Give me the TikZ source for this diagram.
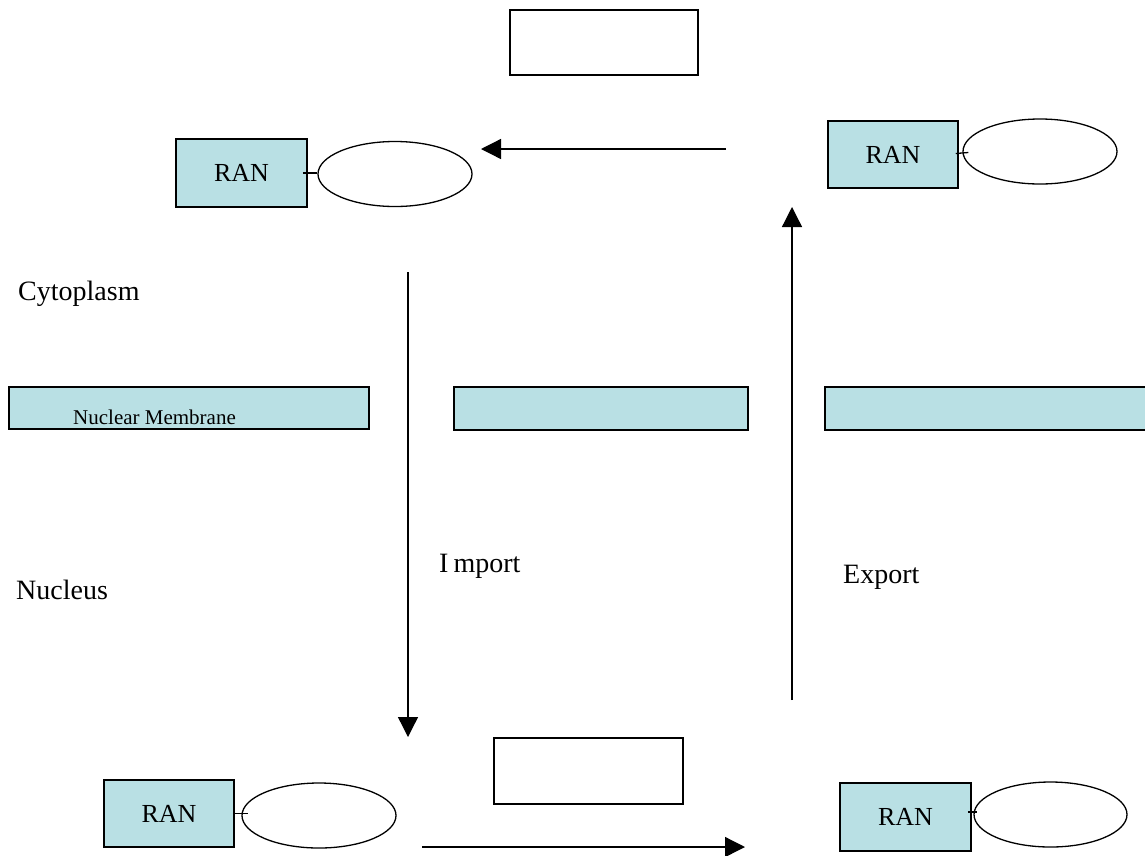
\documentclass[tikz,border=0pt]{standalone}
\usepackage{fontspec}
\setmainfont{Liberation Serif}
\usetikzlibrary{shapes.geometric}
\usetikzlibrary{arrows.meta}
\definecolor{ranblue}{RGB}{185,224,228}

\tikzset{
	ranbox/.style={draw, line width=1.5pt, fill=ranblue, minimum width=131pt, minimum height=68pt, inner sep=0pt, font=\fontsize{26}{28}\selectfont},
	oval/.style={draw, ellipse, line width=1.3pt, minimum width=154pt, minimum height=65pt, inner sep=0pt},
	emptybox/.style={draw, line width=1.5pt, minimum width=188pt, minimum height=65pt, inner sep=0pt},
	membrane/.style={draw, line width=1.5pt, fill=ranblue, minimum height=43pt, inner sep=0pt},
	label/.style={anchor=base west, inner sep=0pt, font=\fontsize{28}{30}\selectfont},
	tick/.style={line width=1.3pt},
	flow/.style={line width=1.3pt, -{Triangle[length=20pt, width=20pt]}}
}

\begin{document}
\begin{tikzpicture}[x=1pt, y=-1pt]
		\useasboundingbox (0,0) rectangle (1145,855);
		
		\node[emptybox] (top) at (604,42.5) {};
		\node[emptybox, minimum width=189pt, minimum height=66pt] (bottom) at (588.5,771) {};
		
		\node[ranbox] (ranA) at (241.5,173) {RAN};
		\node[oval] (ovalA) at (395,174) {};
		\draw[tick] ([xshift=-5pt]ranA.east) -- (ovalA.west |- ranA.east);
		
		\node[ranbox, minimum width=130pt, minimum height=67pt] (ranB) at (893,154.5) {RAN};
		\node[oval] (ovalB) at (1040,151.5) {};
		\draw[tick] ([xshift=-3pt, yshift=1pt]ranB.east) -- ([xshift=6pt, yshift=-1pt]ovalB.west);
		
		\node[ranbox, minimum width=130pt, minimum height=67pt] (ranC) at (169,813.5) {RAN};
		\node[oval] (ovalC) at (319,815.5) {};
		\draw[tick] ([xshift=-2pt]ranC.east) -- ([xshift=7pt]ovalC.west |- ranC.east);
		
		\node[ranbox] (ranD) at (905.5,817) {RAN};
		\node[oval, minimum width=153pt] (ovalD) at (1050.5,814.5) {};
		\draw[tick] ([xshift=-4pt, yshift=5pt]ranD.east) -- ([xshift=4pt, yshift=2.5pt]ovalD.west);
		
		\node[membrane, minimum width=360pt, minimum height=42pt] (memA) at (189,408) {};
		\node[membrane, minimum width=294pt] (memB) at (601,408.5) {};
		\node[membrane, minimum width=330pt] (memC) at (990,408.5) {};
		\node[anchor=base west, inner sep=0pt, font=\fontsize{21}{23}\selectfont] (memtext) at (73,424) {Nuclear Membrane};
		
		\node[label] (cyto) at (18,300) {Cytoplasm};
		\node[label] (nucleus) at (16,599) {Nucleus};
		\node[label] (import) at (439,572) {I\kern5pt mport};
		\node[label] (export) at (843,583) {Export};
		
		\coordinate (inA) at (408,272);
		\coordinate (inB) at (408,737);
		\coordinate (outA) at (792,700);
		\coordinate (outB) at (792,207);
		\coordinate (backA) at (726,149);
		\coordinate (backB) at (481,149);
		\coordinate (swapA) at (422,847);
		\coordinate (swapB) at (745,847);
		
		\draw[flow] (inA) -- (inB);
		\draw[flow] (outA) -- (outB);
		\draw[flow] (backA) -- (backB);
		\draw[flow] (swapA) -- (swapB);
	\end{tikzpicture}
\end{document}
